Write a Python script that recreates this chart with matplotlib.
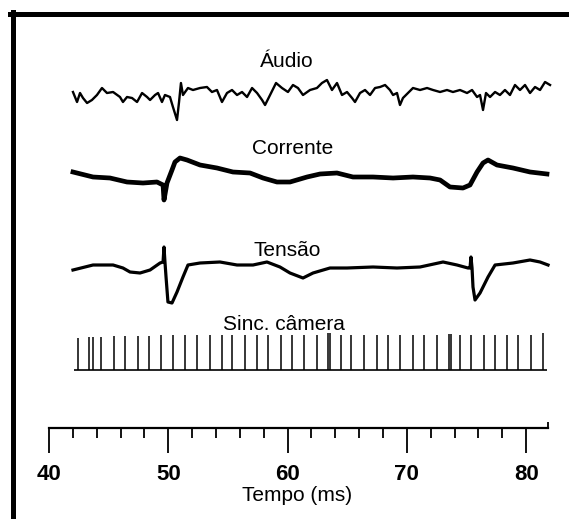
import matplotlib
matplotlib.use("Agg")
import matplotlib.pyplot as plt
from matplotlib.lines import Line2D

plt.rcParams['font.family'] = ['Liberation Sans', 'DejaVu Sans']

# ---- data (time in ms, amplitude in arbitrary units) ----
audio_t = [42.01, 42.35, 42.60, 42.85, 43.19, 43.60, 44.02, 44.44, 44.86, 45.37,
           45.95, 46.20, 46.54, 46.96, 47.38, 47.80, 48.22, 48.47, 48.89, 49.14,
           49.47, 49.72, 50.14, 50.39, 50.73, 50.90, 51.06, 51.23, 51.65, 52.07,
           52.66, 53.24, 53.66, 54.08, 54.50, 54.92, 55.34, 55.76, 56.18, 56.60,
           57.02, 57.44, 57.86, 58.11, 58.53, 59.03, 59.53, 60.03,
           60.45, 60.87, 61.29, 61.88, 62.46, 62.88, 63.30, 63.72, 64.14, 64.56,
           64.98, 65.40, 65.65, 66.07, 66.49, 66.91, 67.33, 67.75, 68.17, 68.58,
           68.84, 69.17, 69.42, 69.67, 70.09, 70.51, 71.10, 71.69, 72.19, 72.78,
           73.36, 73.86, 74.45, 75.04, 75.46, 75.88, 76.13, 76.38, 76.63, 76.97,
           77.39, 77.80, 78.22, 78.64, 79.06, 79.48, 79.90, 80.32, 80.74, 81.16,
           81.58, 82.00]
audio_v = [1, -9, 0, -5, -10, -7, -2, 5, 0, 1,
           -4, -9, -4, -5, -9, 0, -4, -7, -2, 0,
           -9, -2, -4, -14, -27, -9, 10, -2, 5, 3,
           5, 6, 1, 3, -9, 0, 3, -2, 1, -4,
           5, 0, -7, -12, -2, 10, 5, 1,
           8, 5, -2, 3, 5, 10, 13, 3, 10, -2,
           1, -5, -9, 0, 3, -2, 5, 6, 8, 3,
           -2, 0, -12, -5, 0, 5, 3, 5, 3, 1,
           3, 1, 3, 0, 3, -4, -2, -17, 0, -4,
           1, -2, 3, -2, 8, 3, 8, 0, 6, 3,
           11, 8]

corrente_t = [42.01, 43.69, 45.11, 46.54, 47.88, 49.05, 49.56, 49.64, 49.89, 50.31,
              50.56, 50.98, 51.57, 52.66, 54.08, 55.42, 56.85, 57.94, 59.11, 60.20,
              61.63, 62.72, 64.14, 65.48, 67.16, 68.84, 70.51, 71.94, 72.78, 73.61,
              74.70, 75.29, 75.88, 76.38, 76.80, 77.55, 78.89, 80.32, 81.74]
corrente_v = [3, -2, -3, -7, -8, -7, -10, -25, -8, 5,
              13, 17, 15, 10, 7, 3, 2, -3, -7, -7,
              -2, 1, 2, -2, -2, -3, -2, -3, -5, -12,
              -13, -10, 3, 12, 15, 10, 7, 3, 1]

tensao_t = [42.01, 43.69, 45.37, 46.20, 46.79, 47.63, 48.47, 49.31, 49.56, 49.64,
            49.72, 49.81, 49.97, 50.31, 50.73, 51.23, 51.65, 52.66, 54.33, 55.76,
            57.10, 58.27, 59.36, 60.20, 61.29, 62.13, 63.55, 64.98, 67.16, 69.17,
            71.10, 73.03, 74.20, 75.12, 75.29, 75.37, 75.46, 75.54, 75.71, 76.13,
            76.80, 77.39, 78.89, 80.32, 81.16, 81.83]
tensao_v = [-2, 3, 3, 0, -4, -5, -2, 5, 6, 21,
            6, -9, -34, -35, -24, -9, 3, 5, 6, 3,
            3, 6, 1, -5, -10, -5, 0, 0, 1, 0,
            1, 6, 3, 0, 0, 11, 0, -19, -32, -25,
            -9, 3, 5, 8, 6, 3]

sinc_t = [42.43, 43.35, 43.69, 44.36, 45.45, 46.37, 47.46, 48.38, 49.39, 50.39,
          51.40, 52.41, 53.50, 54.50, 55.34, 56.43, 57.44, 58.36, 59.45, 60.37,
          61.38, 62.46, 63.39, 63.55, 64.48, 65.32, 66.40, 67.49, 68.42, 69.42,
          70.51, 71.43, 72.52, 73.53, 73.70, 74.45, 75.37, 76.46, 77.39, 78.39,
          79.31, 80.40, 81.41]
sinc_h = [32, 33, 33, 33, 34, 34, 34, 34, 35, 35,
          35, 35, 35, 35, 35, 35, 35, 35, 35, 35,
          35, 35, 37, 37, 35, 35, 35, 35, 35, 35,
          35, 35, 35, 36, 36, 35, 35, 35, 35, 35,
          35, 35, 37]
sinc_span = [42.10, 81.74]

labels = ['Áudio', 'Corrente', 'Tensão', 'Sinc. câmera']
time_ticks = [40, 50, 60, 70, 80]
time_minor = [42, 44, 46, 48, 52, 54, 56, 58, 62, 64, 66, 68, 72, 74, 76, 78]
time_end = 81.8

# ---- figure ----
W, H = 569, 519
fig = plt.figure(figsize=(W / 100, H / 100), dpi=100)
fig.patch.set_facecolor('white')

# x in ms, y in screen rows (top = 0)
ms0 = 40 - 49 / 11.93
ms1 = ms0 + W / 11.93
ax = fig.add_axes([0, 0, 1, 1])
ax.set_xlim(ms0, ms1)
ax.set_ylim(H, 0)
ax.axis('off')

base_audio, base_corr, base_tens, base_sinc = 93, 175, 268, 370

ax.plot(audio_t, [base_audio - v for v in audio_v], color='black', lw=1.7)
ax.plot(corrente_t, [base_corr - v for v in corrente_v], color='black', lw=3.4,
        solid_joinstyle='round')
ax.plot(tensao_t, [base_tens - v for v in tensao_v], color='black', lw=2.3)
ax.vlines(sinc_t, [base_sinc - h for h in sinc_h], base_sinc, color='black', lw=1.1)
ax.hlines(base_sinc, sinc_span[0], sinc_span[1], color='black', lw=1.2)

label_pos = [(59.9, 67), (60.4, 154), (60.0, 256), (59.7, 330)]
for txt, (x, y) in zip(labels, label_pos):
    ax.text(x, y, txt, ha='center', va='baseline', fontsize=15)

ax.text(60.8, 501, 'Tempo (ms)', ha='center', va='baseline', fontsize=15)

# time scale
ax_t = fig.add_axes([0, 1 - 428 / H, 1, 0.0001])
ax_t.set_xlim(ms0, ms1)
ax_t.patch.set_visible(False)
for s in ['top', 'left', 'right']:
    ax_t.spines[s].set_visible(False)
ax_t.spines['bottom'].set_bounds(40, time_end)
ax_t.spines['bottom'].set_linewidth(1.6)
ax_t.set_yticks([])
ax_t.set_xticks(time_ticks)
ax_t.set_xticks(time_minor, minor=True)
ax_t.tick_params(axis='x', which='major', length=18, width=1.3, pad=8,
                 labelsize=16, direction='out')
ax_t.tick_params(axis='x', which='minor', length=7, width=1.3, direction='out')
for lab in ax_t.get_xticklabels():
    lab.set_fontweight('bold')
# small upturned end of the scale bar
ax.vlines(time_end, 422, 428, color='black', lw=1.3)

# border (top and left only)
fig.add_artist(Line2D([10 / W, 1], [1 - 14 / H, 1 - 14 / H], color='black', lw=3.6,
                      transform=fig.transFigure))
fig.add_artist(Line2D([12.5 / W, 12.5 / W], [0, 1 - 12 / H], color='black', lw=3.6,
                      transform=fig.transFigure))

fig.savefig('out.png', dpi=100)
